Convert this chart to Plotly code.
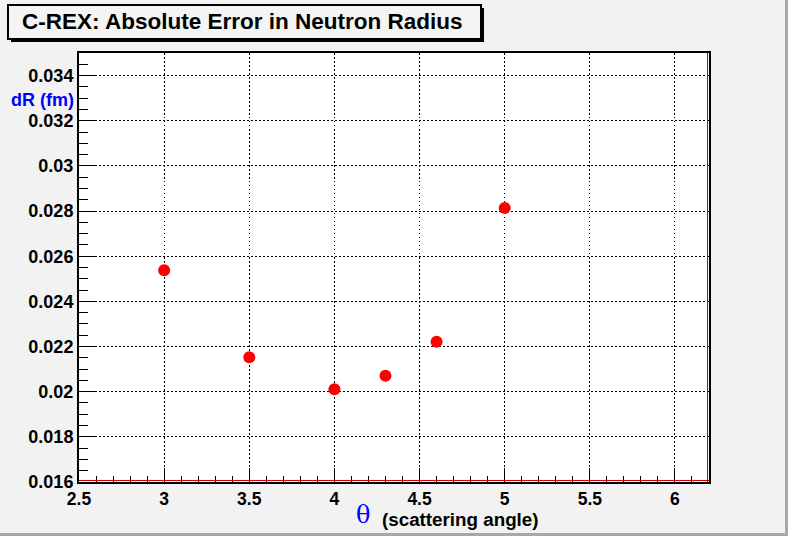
import plotly.graph_objects as go

# ---- data ----
theta = [3.0, 3.5, 4.0, 4.3, 4.6, 5.0]
dR = [0.02538, 0.02153, 0.02011, 0.02071, 0.02221, 0.02814]

x_tickvals = [2.5, 3, 3.5, 4, 4.5, 5, 5.5, 6]
x_ticktext = ["2.5", "3", "3.5", "4", "4.5", "5", "5.5", "6"]
y_tickvals = [0.016, 0.018, 0.020, 0.022, 0.024, 0.026, 0.028, 0.030, 0.032, 0.034]
y_ticktext = ["0.016", "0.018", "0.02", "0.022", "0.024", "0.026", "0.028", "0.03", "0.032", "0.034"]

title_text = "C-REX: Absolute Error in Neutron Radius"
x_title_sym = "θ"
x_title_text = "(scattering angle)"
y_title_text = "dR (fm)"

W, H = 788, 536
L, R, T, B = 79, 709, 53, 482
PW, PH = R - L, B - T


def px(x):
    return (x - L) / PW


def py(y):
    return (B - y) / PH


FONT = "Liberation Sans, Arial, Helvetica, sans-serif"

fig = go.Figure()
fig.add_trace(go.Scatter(
    x=theta, y=dR, mode="markers",
    marker=dict(color="#ff0000", size=12, line=dict(width=0)),
    showlegend=False, hoverinfo="x+y",
))

axis_common = dict(
    showline=True, linecolor="black", linewidth=2, mirror=True,
    ticks="inside", tickcolor="black", tickwidth=1,
    showgrid=True, gridcolor="black", gridwidth=1, griddash="1.5px,2.5px",
    zeroline=False, fixedrange=True,
)

fig.update_xaxes(
    range=[2.5, 6.2], tickvals=x_tickvals, ticktext=x_ticktext, ticklen=14,
    tickfont=dict(family=FONT, size=17.5, color="black", weight="bold"),
    minor=dict(ticks="inside", ticklen=6, dtick=0.1, tick0=2.5, tickcolor="black", showgrid=False),
    **axis_common,
)
fig.update_yaxes(
    range=[0.016, 0.035], tickvals=y_tickvals, ticktext=y_ticktext, ticklen=18,
    tickfont=dict(family=FONT, size=18, color="black", weight="bold"),
    minor=dict(ticks="inside", ticklen=9, dtick=0.0005, tick0=0.016, tickcolor="black", showgrid=False),
    **axis_common,
)

shapes = [
    # canvas bevel
    dict(type="rect", xref="paper", yref="paper", x0=px(785), x1=px(788), y0=py(536), y1=py(0),
         fillcolor="#a8a8a8", line=dict(width=0), layer="above"),
    dict(type="rect", xref="paper", yref="paper", x0=px(0), x1=px(788), y0=py(536), y1=py(533),
         fillcolor="#a8a8a8", line=dict(width=0), layer="above"),
    # red inner frame lines (bottom / right)
    dict(type="line", xref="paper", yref="paper", x0=0, x1=1, y0=py(480.5), y1=py(480.5),
         line=dict(color="#cc0000", width=1), layer="above"),
    dict(type="line", xref="paper", yref="paper", x0=px(707.5), x1=px(707.5), y0=0, y1=1,
         line=dict(color="#cc0000", width=1), layer="above"),
    # title box shadow
    dict(type="rect", xref="paper", yref="paper", x0=px(11), x1=px(484), y0=py(42), y1=py(8),
         fillcolor="black", line=dict(width=0), layer="above"),
    # title box
    dict(type="rect", xref="paper", yref="paper", x0=px(8), x1=px(481), y0=py(39), y1=py(5),
         fillcolor="#f4f4f4", line=dict(color="black", width=2), layer="above"),
]

annotations = [
    dict(text=f"<b>{title_text}</b>", xref="paper", yref="paper", x=px(241.5), y=py(22),
         xanchor="center", yanchor="middle", showarrow=False,
         font=dict(family=FONT, size=22.5, color="black")),
    dict(text=f"<b>{y_title_text}</b>", xref="paper", yref="paper", x=px(74.5), y=py(100),
         xanchor="right", yanchor="middle", showarrow=False, borderpad=0,
         font=dict(family=FONT, size=18, color="#0000ff")),
    dict(text=x_title_sym, xref="paper", yref="paper", x=px(371), y=py(515),
         xanchor="right", yanchor="middle", showarrow=False, borderpad=0,
         font=dict(family="DejaVu Serif, Liberation Serif, serif", size=24, color="#0000ff")),
    dict(text=f"<b>{x_title_text}</b>", xref="paper", yref="paper", x=px(381), y=py(519),
         xanchor="left", yanchor="middle", showarrow=False, borderpad=0,
         font=dict(family=FONT, size=18.8, color="black")),
]

fig.update_layout(
    width=W, height=H,
    margin=dict(l=L, r=W - R, t=T, b=H - B, pad=0),
    paper_bgcolor="#f2f2f2", plot_bgcolor="white",
    shapes=shapes, annotations=annotations,
    showlegend=False,
)

fig.write_html(
    "out.html",
    config={"displayModeBar": False},
    post_script="document.body.style.margin='0';document.body.style.overflow='hidden';",
)
